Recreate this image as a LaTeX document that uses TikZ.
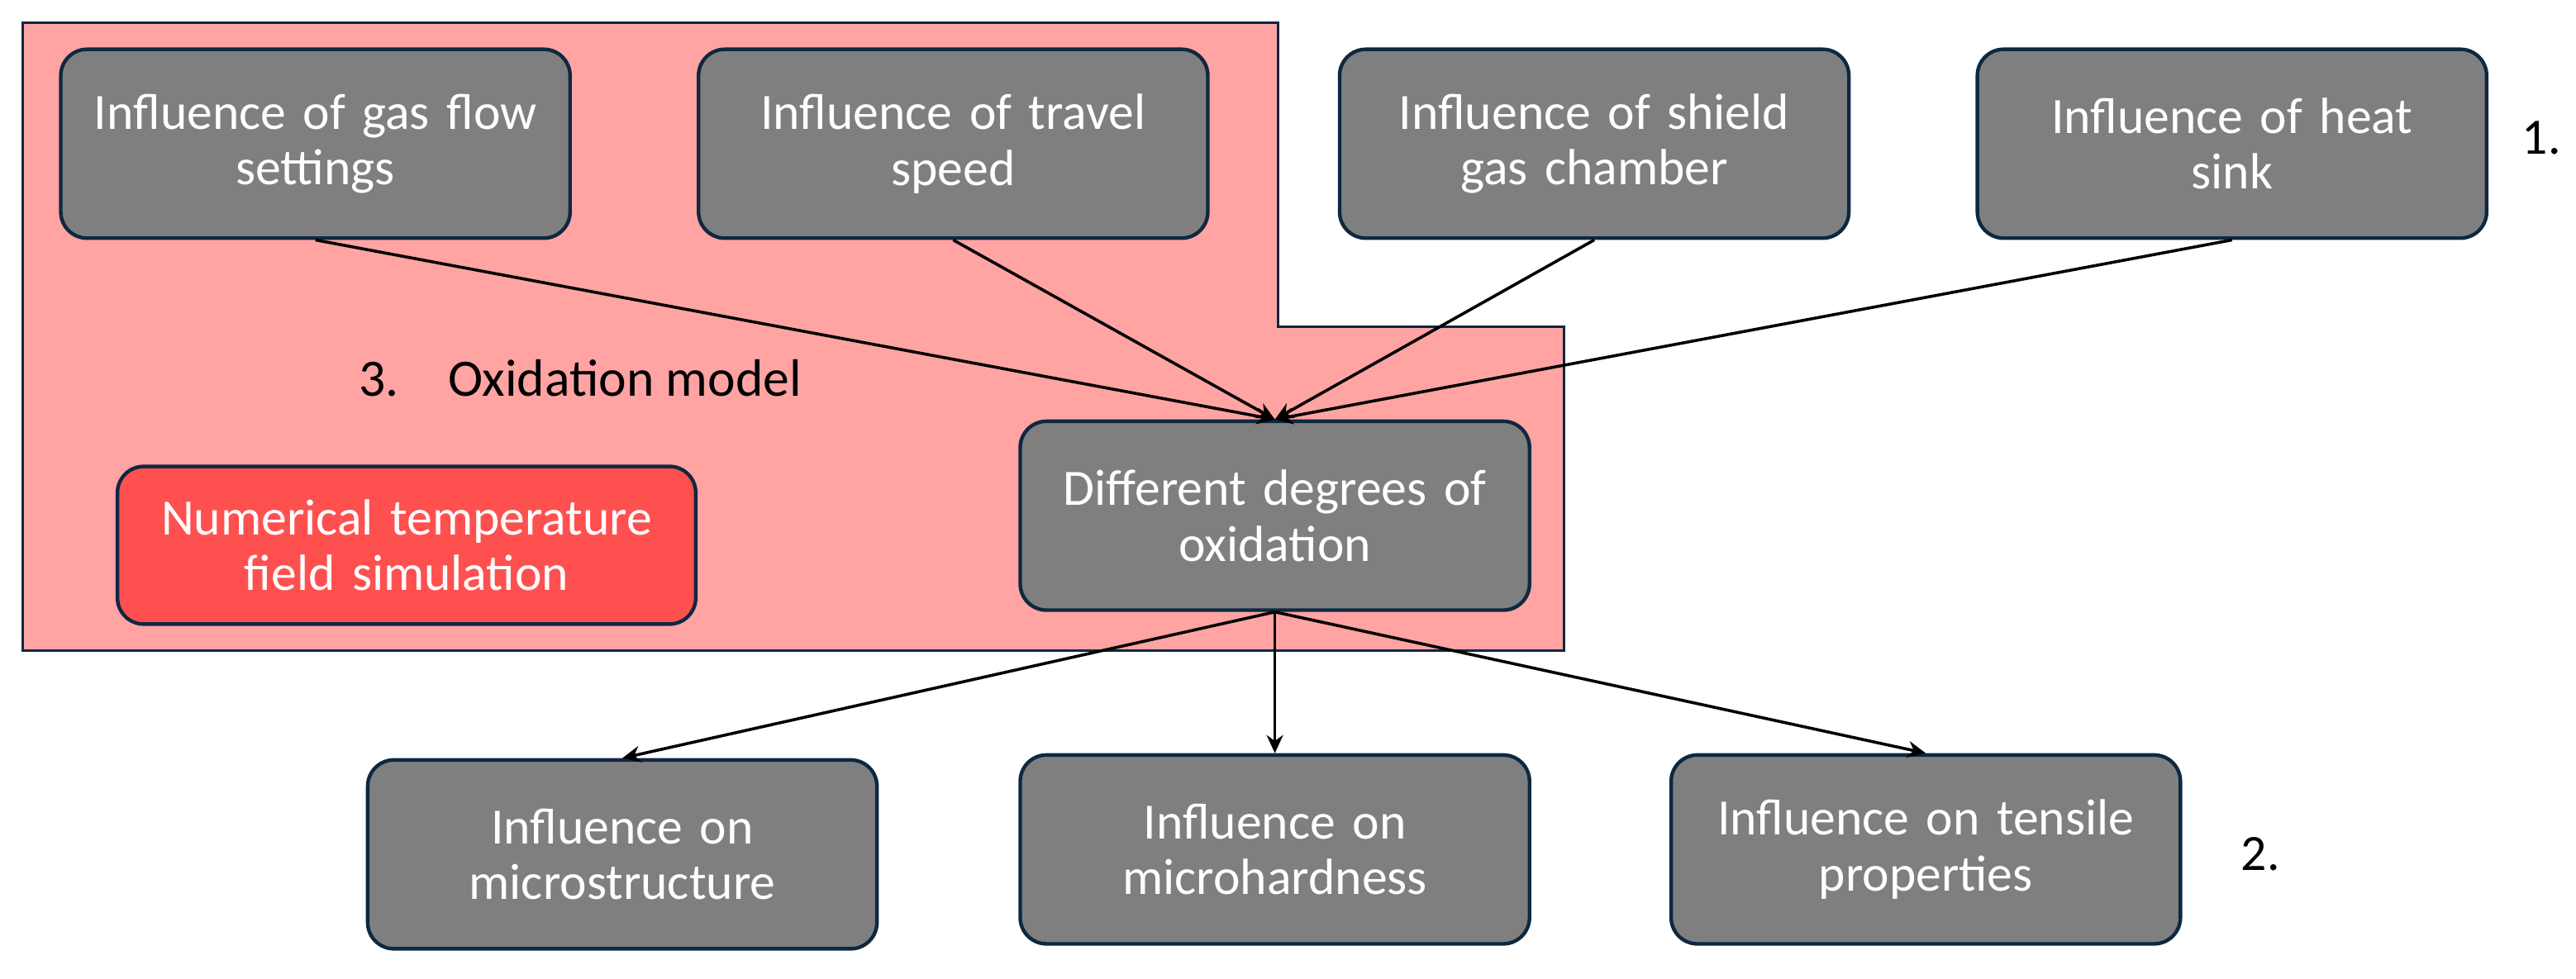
\documentclass[tikz,border=0pt]{standalone}
\usepackage{fontspec}
\setmainfont{Carlito}
\usepackage{xcolor}
\usepackage{tikz}
\usetikzlibrary{arrows.meta,positioning}

\definecolor{boxgray}{HTML}{7F7F7F}
\definecolor{boxline}{HTML}{0E2841}
\definecolor{modelpink}{HTML}{FFA3A3}
\definecolor{simred}{HTML}{FF5050}

\begin{document}
\begin{tikzpicture}[
    x=0.5pt, y=-0.5pt,
    node distance=38pt and 38pt,
    box/.style={draw=boxline,line width=1.1pt,fill=boxgray,rounded corners=8pt,align=center,
        minimum width=155pt,minimum height=57.5pt,text width=150pt,text=white,
        font=\fontsize{15.5}{17}\selectfont,inner sep=2pt},
    arrow/.style={-{Stealth[length=5.5pt,width=5pt]},line width=0.9pt,draw=black},
    lbl/.style={font=\fontsize{15.5}{17}\selectfont,inner sep=0pt}
]
\useasboundingbox (0,0) rectangle (1568,596);
% area of the oxidation model
\draw[draw=boxline,line width=0.8pt,fill=modelpink]
    (14,14) -- (778,14) -- (778,199) -- (952,199) -- (952,396) -- (14,396) -- cycle;

% 1. influences
\node[box] (gasflow) at (192,87.5) {Influence of gas flow\\settings};
\node[box,right=of gasflow] (speed) {Influence of travel\\speed};
\node[box,right=39pt of speed] (chamber) {Influence of shield\\gas chamber};
\node[box,right=of chamber] (heatsink) {Influence of heat\\sink};
\node[lbl] (stepone) at (1547,84) {1.};

% 3. oxidation model
\node[lbl,anchor=west,font=\fontsize{16}{18}\selectfont] (modelname) at (218,230)
    {3.\hspace{15pt}Oxidation model};
\node[box,fill=simred,minimum width=174.5pt,minimum height=48pt,text width=172pt]
    (tempsim) at (247.5,332) {Numerical temperature\\field simulation};
\node[box] (oxid) at (776,314) {Different degrees of\\oxidation};

% 2. effects
\node[box,below=43pt of oxid] (hardness) {Influence on\\microhardness};
\node[box,left=42.5pt of hardness,yshift=-1.5pt] (structure) {Influence on\\microstructure};
\node[box,right=42pt of hardness] (tensile) {Influence on tensile\\properties};
\node[lbl] (steptwo) at (1376,520) {2.};

\draw[arrow] (gasflow.south) -- (oxid.north);
\draw[arrow] (speed.south) -- (oxid.north);
\draw[arrow] (chamber.south) -- (oxid.north);
\draw[arrow] (heatsink.south) -- (oxid.north);
\draw[arrow] (oxid.south) -- (structure.north);
\draw[arrow] (oxid.south) -- (hardness.north);
\draw[arrow] (oxid.south) -- (tensile.north);
\end{tikzpicture}
\end{document}
